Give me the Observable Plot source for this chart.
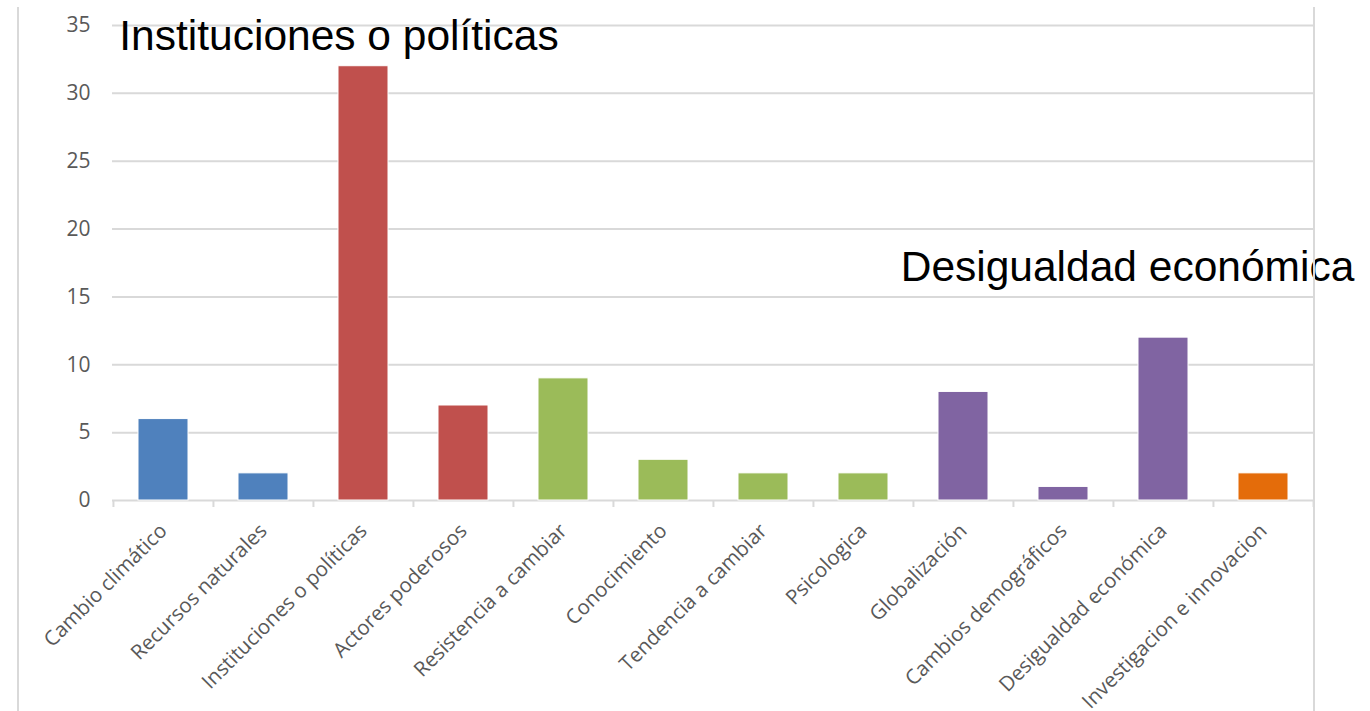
<!DOCTYPE html>
<html>
<head>
<meta charset="utf-8">
<script src="https://cdn.jsdelivr.net/npm/d3@7"></script>
<script src="https://cdn.jsdelivr.net/npm/@observablehq/plot@0.6"></script>
<style>
  html, body { margin: 0; padding: 0; background: #fff; }
  #wrap { position: relative; width: 1370px; height: 711px; overflow: hidden; }
  #frameLines { position: absolute; left: 17px; top: 7px; width: 1298px; height: 710px;
    border-left: 2px solid #d9d9d9; border-right: 2px solid #d9d9d9; box-sizing: border-box; pointer-events: none; }
  svg { position: absolute; left: 0; top: 0; }
  svg [aria-label="y-axis tick label"] text { font-size: 21px; font-family: "Open Sans", sans-serif; fill: #595959; }
  svg [aria-label="x-axis tick label"] text { font-size: 20.5px; font-family: "Open Sans", sans-serif; fill: #595959; }
</style>
</head>
<body>
<div id="wrap"><div id="frameLines"></div></div>
<script>
const categories = [
  "Cambio climático", "Recursos naturales", "Instituciones o políticas", "Actores poderosos",
  "Resistencia a cambiar", "Conocimiento", "Tendencia a cambiar", "Psicologica",
  "Globalización", "Cambios demográficos", "Desigualdad económica", "Investigacion e innovacion"
];
const values = [6, 2, 32, 7, 9, 3, 2, 2, 8, 1, 12, 2];
const groups = ["A", "A", "B", "B", "C", "C", "C", "C", "D", "D", "D", "E"];
const groupColors = {A: "#4f81bd", B: "#c0504d", C: "#9bbb59", D: "#8064a2", E: "#e46c0a"};
const yTicks = [0, 5, 10, 15, 20, 25, 30, 35];
const annotationTop = {label: "Instituciones o políticas", category: "Instituciones o políticas", value: 32};
const annotationMid = {label: "Desigualdad económica", category: "Desigualdad económica", value: 12};

const data = categories.map((c, i) => ({category: c, value: values[i], group: groups[i]}));

const W = 1370, H = 711, ML = 112, MR = 57, MT = 25, MB = 211;
const step = (W - ML - MR) / categories.length;

const chart = Plot.plot({
  width: W, height: H,
  marginLeft: ML, marginRight: MR, marginTop: MT, marginBottom: MB,
  style: {background: "transparent", overflow: "visible"},
  x: {domain: categories, paddingInner: 0.5, paddingOuter: 0.25, label: null},
  y: {domain: [0, 35], label: null},
  marks: [
    Plot.ruleY(yTicks, {stroke: "#d9d9d9", strokeWidth: 2}),
    Plot.ruleX(categories, {x: d => d, y1: 0, y2: 0, insetTop: 0, insetBottom: -7, dx: -step / 2, stroke: "#d9d9d9", strokeWidth: 2}),
    Plot.ruleX(categories.slice(-1), {x: d => d, y1: 0, y2: 0, insetTop: 0, insetBottom: -7, dx: step / 2, stroke: "#d9d9d9", strokeWidth: 2}),
    Plot.barY(data, {x: "category", y: "value", fill: d => groupColors[d.group], stroke: "#ffffff", strokeWidth: 1}),
    Plot.axisY({ticks: yTicks, tickSize: 0, tickPadding: 22, label: null}),
    Plot.axisX({tickSize: 0, tickRotate: -45, tickPadding: 27, label: null, dx: 0}),
    Plot.text([annotationTop], {x: "category", y: "value", text: "label", dy: -30, dx: -24.5, fontSize: 42.5, fontFamily: "Liberation Sans", fill: "#000000"}),
    Plot.text([annotationMid], {x: "category", y: "value", text: "label", dy: -70, dx: -36, fontSize: 42.5, fontFamily: "Liberation Sans", fill: "#000000"}),
  ]
});
document.getElementById("wrap").prepend(chart);
</script>
</body>
</html>
